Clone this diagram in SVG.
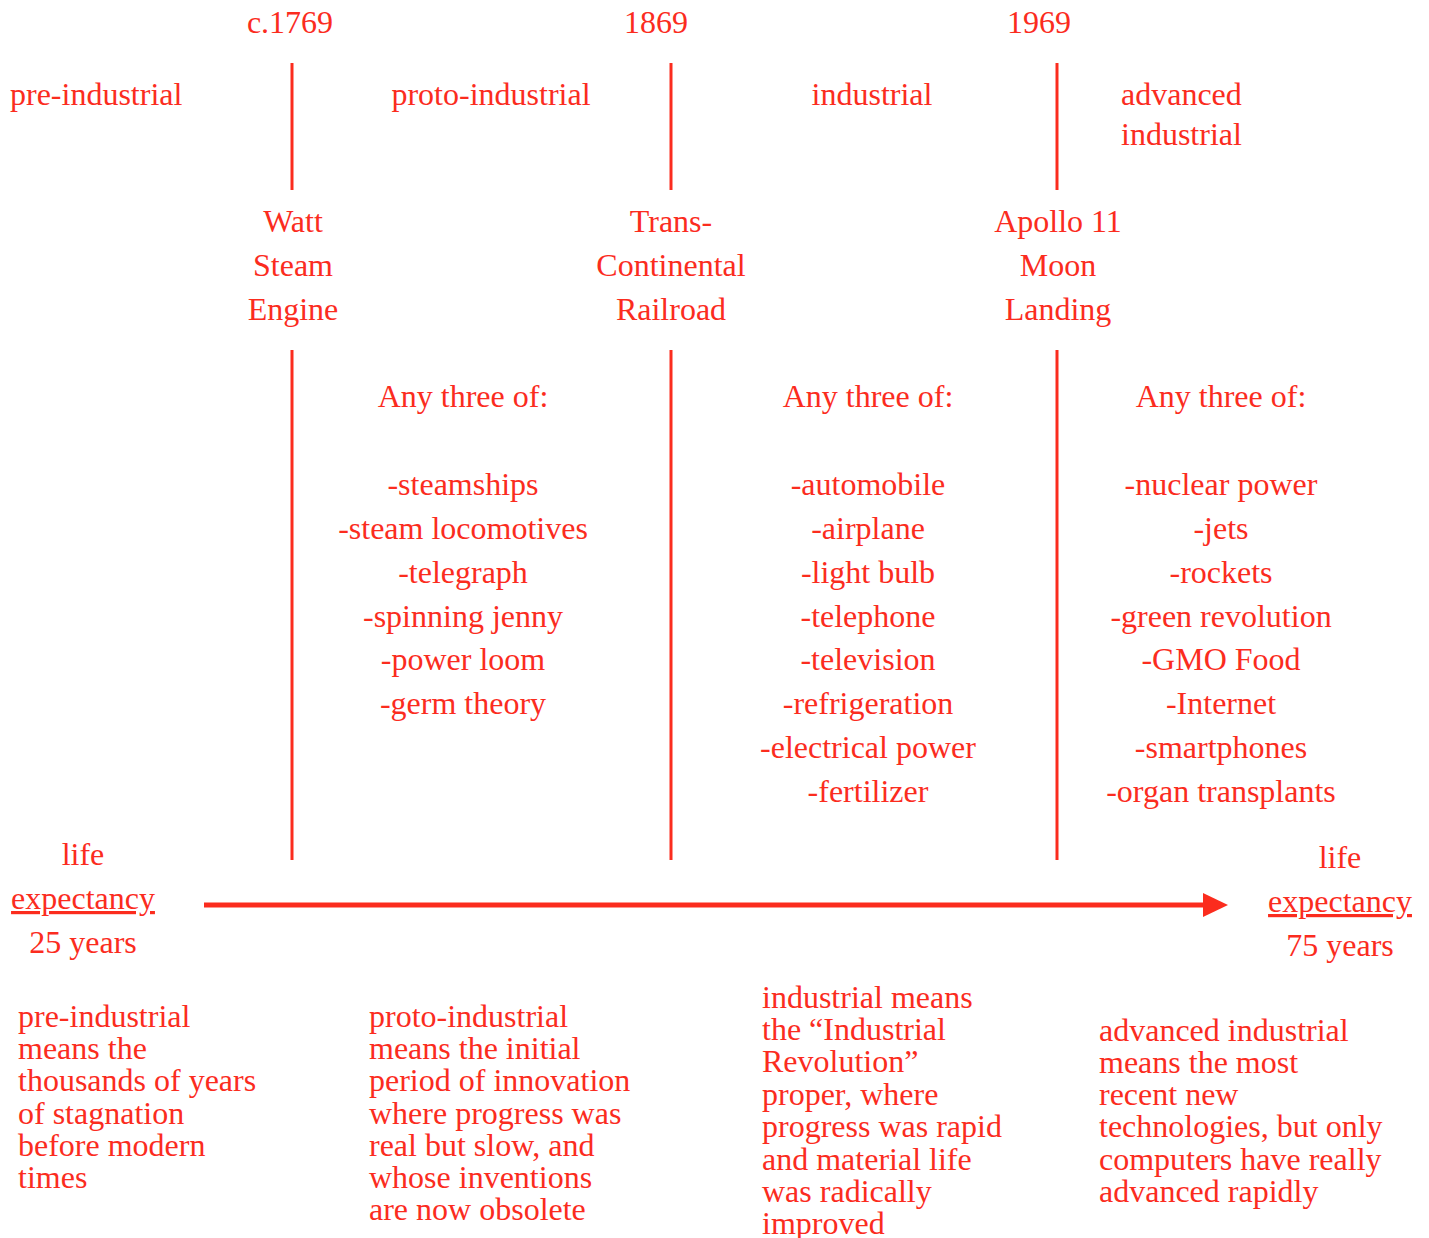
<svg xmlns="http://www.w3.org/2000/svg" width="1429" height="1238" viewBox="0 0 1429 1238">
<style>
text{font-family:"Liberation Serif","Times New Roman",serif;font-size:32px;fill:#fb2c1e}
.c{text-anchor:middle}
.u{text-decoration:underline}
.ln{stroke:#fb2c1e;stroke-width:3;fill:none}
</style>
<rect width="1429" height="1238" fill="#fff"/>
<g id="connectors">
<line class="ln" x1="292" y1="63" x2="292" y2="190"/>
<line class="ln" x1="292" y1="350" x2="292" y2="860"/>
<line class="ln" x1="671" y1="63" x2="671" y2="190"/>
<line class="ln" x1="671" y1="350" x2="671" y2="860"/>
<line class="ln" x1="1057" y1="63" x2="1057" y2="190"/>
<line class="ln" x1="1057" y1="350" x2="1057" y2="860"/>
<line x1="204" y1="905" x2="1205" y2="905" stroke="#fb2c1e" stroke-width="5"/>
<path d="M1203,893L1228,905L1203,917Z" fill="#fb2c1e"/>
</g>
<g id="years">
<text class="c" x="290" y="33">c.1769</text>
<text class="c" x="656" y="33">1869</text>
<text class="c" x="1039" y="33">1969</text>
</g>
<g id="eras">
<text x="10" y="105">pre-industrial</text>
<text class="c" x="491" y="105">proto-industrial</text>
<text class="c" x="872" y="105">industrial</text>
<text x="1121" y="105">advanced</text>
<text x="1121" y="145">industrial</text>
</g>
<g id="watt">
<text class="c" x="293" y="232">Watt</text>
<text class="c" x="293" y="276">Steam</text>
<text class="c" x="293" y="320">Engine</text>
</g>
<g id="railroad">
<text class="c" x="671" y="232">Trans-</text>
<text class="c" x="671" y="276">Continental</text>
<text class="c" x="671" y="320">Railroad</text>
</g>
<g id="apollo">
<text class="c" x="1058" y="232">Apollo 11</text>
<text class="c" x="1058" y="276">Moon</text>
<text class="c" x="1058" y="320">Landing</text>
</g>
<g id="list-proto">
<text class="c" x="463" y="407">Any three of:</text>
<text class="c" x="463" y="495">-steamships</text>
<text class="c" x="463" y="539">-steam locomotives</text>
<text class="c" x="463" y="583">-telegraph</text>
<text class="c" x="463" y="627">-spinning jenny</text>
<text class="c" x="463" y="670">-power loom</text>
<text class="c" x="463" y="714">-germ theory</text>
</g>
<g id="list-industrial">
<text class="c" x="868" y="407">Any three of:</text>
<text class="c" x="868" y="495">-automobile</text>
<text class="c" x="868" y="539">-airplane</text>
<text class="c" x="868" y="583">-light bulb</text>
<text class="c" x="868" y="627">-telephone</text>
<text class="c" x="868" y="670">-television</text>
<text class="c" x="868" y="714">-refrigeration</text>
<text class="c" x="868" y="758">-electrical power</text>
<text class="c" x="868" y="802">-fertilizer</text>
</g>
<g id="list-advanced">
<text class="c" x="1221" y="407">Any three of:</text>
<text class="c" x="1221" y="495">-nuclear power</text>
<text class="c" x="1221" y="539">-jets</text>
<text class="c" x="1221" y="583">-rockets</text>
<text class="c" x="1221" y="627">-green revolution</text>
<text class="c" x="1221" y="670">-GMO Food</text>
<text class="c" x="1221" y="714">-Internet</text>
<text class="c" x="1221" y="758">-smartphones</text>
<text class="c" x="1221" y="802">-organ transplants</text>
</g>
<g id="life-left">
<text class="c" x="83" y="865">life</text>
<text class="c u" x="83" y="909">expectancy</text>
<text class="c" x="83" y="953">25 years</text>
</g>
<g id="life-right">
<text class="c" x="1340" y="868">life</text>
<text class="c u" x="1340" y="912">expectancy</text>
<text class="c" x="1340" y="956">75 years</text>
</g>
<g id="desc-pre">
<text x="18" y="1027">pre-industrial</text>
<text x="18" y="1059">means the</text>
<text x="18" y="1091">thousands of years</text>
<text x="18" y="1124">of stagnation</text>
<text x="18" y="1156">before modern</text>
<text x="18" y="1188">times</text>
</g>
<g id="desc-proto">
<text x="369" y="1027">proto-industrial</text>
<text x="369" y="1059">means the initial</text>
<text x="369" y="1091">period of innovation</text>
<text x="369" y="1124">where progress was</text>
<text x="369" y="1156">real but slow, and</text>
<text x="369" y="1188">whose inventions</text>
<text x="369" y="1220">are now obsolete</text>
</g>
<g id="desc-industrial">
<text x="762" y="1008">industrial means</text>
<text x="762" y="1040">the “Industrial</text>
<text x="762" y="1072">Revolution”</text>
<text x="762" y="1105">proper, where</text>
<text x="762" y="1137">progress was rapid</text>
<text x="762" y="1170">and material life</text>
<text x="762" y="1202">was radically</text>
<text x="762" y="1234">improved</text>
</g>
<g id="desc-advanced">
<text x="1099" y="1041">advanced industrial</text>
<text x="1099" y="1073">means the most</text>
<text x="1099" y="1105">recent new</text>
<text x="1099" y="1137">technologies, but only</text>
<text x="1099" y="1170">computers have really</text>
<text x="1099" y="1202">advanced rapidly</text>
</g>
</svg>
